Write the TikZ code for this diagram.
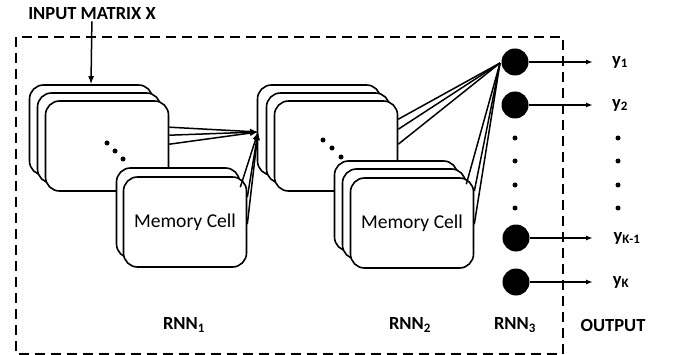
\documentclass[tikz,border=0pt]{standalone}
\usepackage{fontspec}
\setmainfont{Carlito}
\usetikzlibrary{arrows.meta,calc,positioning}

\tikzset{
  cell/.style={draw,line width=1.6pt,fill=white,rounded corners=14pt,minimum width=123pt,minimum height=90pt,inner sep=0pt},
  lbl/.style={font=\fontsize{18.5}{22}\selectfont\bfseries,inner sep=1pt},
  neuron/.style={circle,fill=black,minimum size=27pt,inner sep=0pt},
  dotn/.style={circle,fill=black,minimum size=5pt,inner sep=0pt},
  feed/.style={line width=1.5pt,-{Latex[length=8pt,width=6pt]}}
}

\begin{document}
\begin{tikzpicture}[x=1pt,y=-1pt]
  \useasboundingbox (0,0) rectangle (676,355);
  \draw[line width=2pt,dash pattern=on 10pt off 6pt] (16,37) rectangle (563,354);

  % first layer
  \node[lbl] (input) at (92,14) {INPUT MATRIX X};
  \node[cell] (a1) at (91,130) {};
  \node[cell] (a2) at (99,138) {};
  \node[cell] (a3) at (107,146) {};
  \foreach \i/\x/\y in {1/107/143,2/115/151,3/123/159}
    \node[dotn] (adot\i) at (\x,\y) {};
  \node[cell] (m1a) at (178,213) {};
  \node[cell] (m1b) at (185,222) {\fontsize{19.6}{22}\selectfont Memory Cell};
  \draw[feed] (input) -- (a1.north);

  % second layer
  \node[cell] (b1) at (319,130) {};
  \node[cell] (b2) at (328,138) {};
  \node[cell] (b3) at (336,146) {};
  \foreach \i/\x/\y in {1/323/140,2/332/148,3/341/157}
    \node[dotn] (bdot\i) at (\x,\y) {};
  \node[cell] (m2a) at (396,206) {};
  \node[cell] (m2b) at (404,214) {};
  \node[cell] (m2c) at (412,223) {\fontsize{19.6}{22}\selectfont Memory Cell};

  \coordinate (c1) at (258,132);
  \foreach \d in {27,35,44}
    \draw[feed] ($(a3.north east)+(0,\d)$) -- (c1);
  \draw[feed] ($(m1a.north east)+(0,20)$) -- (c1);
  \foreach \d in {21,48}
    \draw[feed] ($(m1b.north east)+(0,\d)$) -- (c1);

  % third layer and output
  \node[neuron] (o1) at (515,62) {};
  \node[neuron] (o2) at (515,105) {};
  \node[neuron] (o3) at (516,238) {};
  \node[neuron] (o4) at (516,282) {};
  \foreach \y in {138,161,185,208} {
    \node[dotn] at (515,\y) {};
    \node[dotn] at (618,\y) {};
  }

  \coordinate (c2) at (500,63);
  \foreach \d in {19,29,44}
    \draw[line width=1.5pt] ($(b3.north east)+(0,\d)$) -- (c2);
  \draw[line width=1.5pt] ($(m2b.north east)+(0,16)$) -- (c2);
  \foreach \d in {14,47}
    \draw[line width=1.5pt] ($(m2c.north east)+(0,\d)$) -- (c2);

  \node[lbl] (y1) at (620,62) {y\textsubscript{1}};
  \node[lbl] (y2) at (620,105) {y\textsubscript{2}};
  \node[lbl] (y3) at (627,238) {y\textsubscript{K-1}};
  \node[lbl] (y4) at (621,282) {y\textsubscript{K}};
  \foreach \i in {1,...,4}
    \draw[line width=1.4pt,-{Latex[length=7pt,width=5pt]}] (o\i.east) -- (o\i.east -| 593,0);

  \node[lbl] (rnn1) at (184,325) {RNN\textsubscript{1}};
  \node[lbl] (rnn2) at (410,325) {RNN\textsubscript{2}};
  \node[lbl] (rnn3) at (515,325) {RNN\textsubscript{3}};
  \node[lbl] (out) at (613,325) {OUTPUT};
\end{tikzpicture}
\end{document}
